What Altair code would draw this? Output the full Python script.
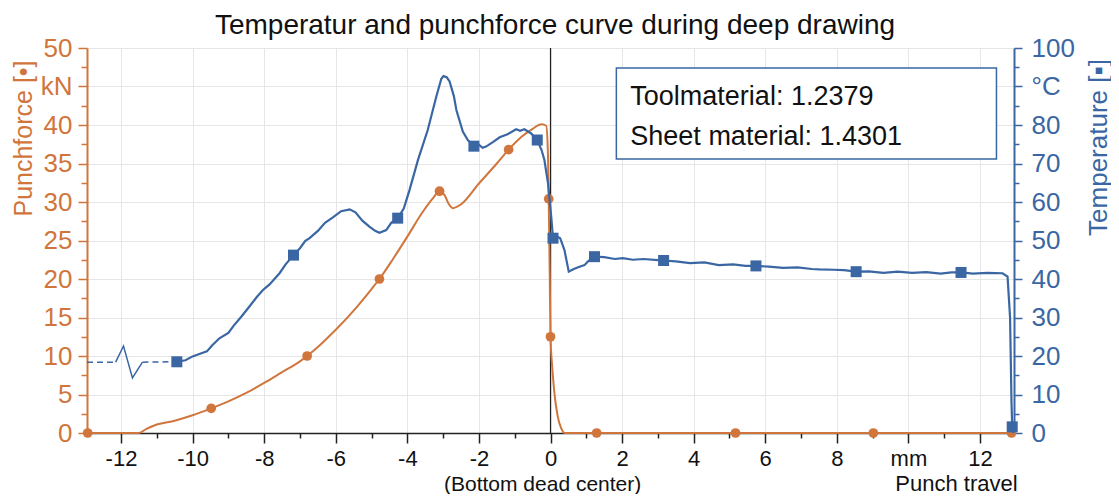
import altair as alt
import pandas as pd

ORANGE = "#D0763C"
BLUE = "#3A67A3"
GRID = "#E6E6E6"
FONT = "Liberation Sans"

TITLE = "Temperatur and punchforce curve during deep drawing"

# Punch force curve (kN)
force_x = [-12.95, -11.5, -11.3, -11.0, -10.5, -10.0, -9.48, -9.0, -8.5, -8.0, -7.5, -7.0, -6.8, -6.4,
           -6.0, -5.5, -5.0, -4.78, -4.4, -4.0, -3.6, -3.3, -3.1, -2.95, -2.85, -2.73, -2.5, -2.0, -1.5,
           -1.17, -0.8, -0.5, -0.25, -0.12, -0.07, -0.05, -0.02, 0.0, 0.05, 0.1, 0.2, 0.3, 0.4, 12.95]
force_y = [0, 0, 0.5, 1.1, 1.6, 2.3, 3.2, 4.1, 5.2, 6.5, 7.9, 9.3, 10.0, 11.6,
           13.4, 15.9, 18.7, 20.0, 22.6, 25.5, 28.5, 30.4, 31.4, 30.8, 29.8, 29.2, 29.7, 32.4, 35.0,
           36.8, 38.5, 39.5, 40.1, 39.9, 36.0, 30.4, 20.0, 12.5, 8.5, 5.6, 2.2, 0.6, 0, 0]
force_mark_x = [-12.93, -9.48, -6.8, -4.78, -3.1, -1.17, -0.05, 0.0, 1.29, 5.17, 9.02, 12.88]
force_mark_y = [0, 3.2, 10.0, 20.0, 31.4, 36.8, 30.4, 12.5, 0, 0, 0, 0]

# Temperature curve (degC)
temp_x = [-10.44, -10.2, -10.0, -9.85, -9.6, -9.45, -9.25, -9.0, -8.85, -8.64,
          -8.4, -8.2, -8.04, -7.85, -7.57, -7.4, -7.18, -7.0, -6.85, -6.73,
          -6.5, -6.3, -6.08, -5.85, -5.61, -5.45, -5.25, -5.06, -4.9, -4.78,
          -4.59, -4.45, -4.27, -4.1, -3.94, -3.7, -3.43, -3.19, -3.05, -2.99,
          -2.9, -2.82, -2.7, -2.63, -2.45, -2.31, -2.14, -2.0, -1.9, -1.8,
          -1.6, -1.42, -1.2, -0.96, -0.85, -0.73, -0.54, -0.37, -0.25, -0.17,
          -0.07, 0.02, 0.07, 0.15, 0.27, 0.39, 0.51, 0.65, 0.81, 0.95,
          1.04, 1.23, 1.5, 1.8, 2.02, 2.3, 2.6, 3.0, 3.16, 3.5,
          3.9, 4.3, 4.7, 5.1, 5.45, 5.74, 6.1, 6.5, 6.9, 7.3,
          7.51, 7.9, 8.2, 8.54, 8.9, 9.3, 9.7, 10.1, 10.5, 10.9,
          11.2, 11.47, 11.8, 12.2, 12.63, 12.77, 12.84, 12.88, 12.9, 12.93]
temp_y = [18.5, 18.9, 19.9, 20.4, 21.2, 22.8, 24.6, 26.0, 27.9, 30.2,
          33.0, 35.4, 37.1, 38.6, 41.5, 43.8, 46.2, 48.0, 49.9, 50.6,
          52.5, 54.6, 56.0, 57.6, 58.1, 57.3, 55.1, 53.6, 52.5, 52.0,
          52.7, 54.6, 55.8, 58.3, 63.1, 71.0, 78.7, 87.4, 92.0, 92.7,
          92.4, 91.3, 87.5, 83.9, 78.3, 76.1, 74.5, 74.9, 74.1, 74.4,
          75.6, 76.8, 77.6, 78.9, 78.5, 78.9, 77.8, 76.1, 73.5, 70.9,
          64.9, 56.2, 50.6, 51.2, 50.6, 47.5, 41.9, 42.6, 43.2, 43.6,
          44.5, 45.8, 45.7, 45.2, 45.4, 45.0, 45.2, 44.9, 44.8, 44.6,
          44.1, 44.3, 43.6, 43.8, 43.4, 43.4, 43.2, 42.9, 43.0, 42.6,
          42.5, 42.4, 42.3, 41.9, 42.0, 41.6, 41.9, 41.6, 41.8, 41.4,
          41.7, 41.7, 41.4, 41.6, 41.5, 40.6, 30.0, 8.0, 1.6, 0.0]
temp_mark_x = [-10.44, -7.18, -4.27, -2.14, -0.37, 0.07, 1.23, 3.16, 5.74, 8.54, 11.47, 12.9]
temp_mark_y = [18.5, 46.2, 55.8, 74.5, 76.1, 50.6, 45.8, 44.8, 43.4, 41.9, 41.7, 1.6]

# Early (uncertain) temperature readings: dashed segments and a thin zigzag
dash_x = [-12.95, -12.15, -11.4, -10.44]
dash_y = [18.4, 18.4, 18.4, 18.5]
dash_seg = ["a", "a", "b", "b"]
zig_x = [-12.15, -11.93, -11.68, -11.4]
zig_y = [18.4, 22.6, 14.3, 18.4]

# Info box
box_x0 = [1.84]
box_x1 = [12.46]
box_t0 = [71.2]
box_t1 = [94.8]
info_x = [2.23, 2.23]
info_t = [85.2, 74.8]
info_text = ["Toolmaterial: 1.2379", "Sheet material: 1.4301"]

x_ticks = list(range(-12, 13))
force_ticks = [i * 2.5 for i in range(21)]
temp_ticks = [i * 5 for i in range(21)]

force_df = pd.DataFrame({"x": force_x, "y": force_y})
force_mark_df = pd.DataFrame({"x": force_mark_x, "y": force_mark_y})
temp_df = pd.DataFrame({"x": temp_x, "t": temp_y})
temp_mark_df = pd.DataFrame({"x": temp_mark_x, "t": temp_mark_y})
dash_df = pd.DataFrame({"x": dash_x, "t": dash_y, "seg": dash_seg})
zig_df = pd.DataFrame({"x": zig_x, "t": zig_y})
box_df = pd.DataFrame({"x0": box_x0, "x1": box_x1, "t0": box_t0, "t1": box_t1})
info_df = pd.DataFrame({"x": info_x, "t": info_t, "label": info_text})
zero_df = pd.DataFrame({"x": [0.0]})
bdc_df = pd.DataFrame({"x": [-0.22], "label": ["(Bottom dead center)"]})
title_df = pd.DataFrame({"label": [TITLE]})

x_scale = alt.Scale(domain=[-12.95, 12.95], nice=False, zero=False)
x_axis = alt.Axis(
    values=x_ticks,
    labelExpr="datum.value == 10 ? 'mm' : (datum.value % 2 == 0 ? '' + datum.value : '')",
    tickSize={"condition": {"test": "datum.value % 2 == 0", "value": 10}, "value": 5},
    grid=True, gridColor=GRID, gridWidth=1,
    gridOpacity={"condition": {"test": "datum.value % 2 == 0", "value": 1}, "value": 0},
    domainColor="#222", domainWidth=1.5, tickColor="#222", tickWidth=1.5,
    labelColor="#111", labelFont=FONT, labelFontSize=22, labelPadding=5,
    labelOverlap=False, labelFlush=False,
    title="Punch travel", titleFont=FONT, titleFontSize=22, titleFontWeight="normal",
    titleColor="#111", titleX=869, titleY=57, titleAlign="center", titleBaseline="alphabetic",
)

f_scale = alt.Scale(domain=[0, 50], nice=False)
f_axis = alt.Axis(
    orient="left", values=force_ticks,
    labelExpr="datum.value == 45 ? 'kN' : (datum.value % 5 == 0 ? '' + datum.value : '')",
    tickSize={"condition": {"test": "datum.value % 5 == 0", "value": 9}, "value": 6},
    grid=True, gridColor=GRID, gridWidth=1,
    gridOpacity={"condition": {"test": "datum.value % 5 == 0", "value": 1}, "value": 0},
    domainColor=ORANGE, domainWidth=2, tickColor=ORANGE, tickWidth=1.5,
    labelColor=ORANGE, labelFont=FONT, labelFontSize=26, labelPadding=6,
    labelFlush=False, labelOverlap=False,
    title="Punchforce [•]", titleColor=ORANGE, titleFont=FONT, titleFontSize=25,
    titleFontWeight="normal", titleX=-56, titleY=90, titleAngle=270,
    titleBaseline="alphabetic", titleAlign="center",
)

t_scale = alt.Scale(domain=[0, 100], nice=False)
t_axis = alt.Axis(
    orient="right", values=temp_ticks,
    labelExpr="datum.value == 90 ? '°C' : (datum.value % 10 == 0 ? '' + datum.value : '')",
    tickSize={"condition": {"test": "datum.value % 10 == 0", "value": 8}, "value": 5},
    grid=False,
    domainColor=BLUE, domainWidth=2, tickColor=BLUE, tickWidth=1.5,
    labelColor=BLUE, labelFont=FONT, labelFontSize=26, labelPadding=9,
    labelFlush=False, labelOverlap=False,
    title="Temperature [▪]", titleColor=BLUE, titleFont=FONT, titleFontSize=26,
    titleFontWeight="normal", titleX=92, titleY=99, titleAngle=270,
    titleBaseline="alphabetic", titleAlign="center",
)

X = alt.X("x:Q", scale=x_scale, axis=x_axis)
YF = alt.Y("y:Q", scale=f_scale, axis=f_axis)
YT = alt.Y("t:Q", scale=t_scale, axis=t_axis)

zero_rule = alt.Chart(zero_df).mark_rule(color="#222", strokeWidth=1.2).encode(x=X)

force_line = alt.Chart(force_df).mark_line(color=ORANGE, strokeWidth=2, interpolate="monotone").encode(x=X, y=YF)
force_pts = alt.Chart(force_mark_df).mark_point(shape="circle", filled=True, color=ORANGE, size=95, opacity=1).encode(x=X, y=YF)
force_group = alt.layer(force_line, force_pts)

dash_line = alt.Chart(dash_df).mark_line(color=BLUE, strokeWidth=1.5, strokeDash=[6, 4]).encode(x=X, y=YT, detail="seg:N")
zig_line = alt.Chart(zig_df).mark_line(color=BLUE, strokeWidth=1.5).encode(x=X, y=YT)
temp_line = alt.Chart(temp_df).mark_line(color=BLUE, strokeWidth=2.2).encode(x=X, y=YT)
temp_pts = alt.Chart(temp_mark_df).mark_point(shape="square", filled=True, color=BLUE, size=121, opacity=1).encode(x=X, y=YT)
box = alt.Chart(box_df).mark_rect(fill="white", stroke=BLUE, strokeWidth=1.5).encode(
    x=alt.X("x0:Q", scale=x_scale, axis=x_axis), x2="x1:Q",
    y=alt.Y("t0:Q", scale=t_scale, axis=t_axis), y2="t1:Q")
info = alt.Chart(info_df).mark_text(align="left", baseline="alphabetic", font=FONT, fontSize=27, color="#111").encode(
    x=X, y=YT, text="label:N")
temp_group = alt.layer(dash_line, zig_line, temp_line, temp_pts, box, info)

bdc = alt.Chart(bdc_df).mark_text(align="center", baseline="alphabetic", font=FONT, fontSize=21, color="#111").encode(
    x=X, y=alt.value(443), text="label:N")

title_txt = alt.Chart(title_df).mark_text(align="center", baseline="alphabetic", font=FONT, fontSize=28, color="#111").encode(
    x=alt.value(468), y=alt.value(-14), text="label:N")

chart = alt.layer(zero_rule, force_group, temp_group, bdc, title_txt).resolve_scale(y="independent").properties(
    width=927, height=385,
    padding={"left": 79, "top": 40, "right": 97, "bottom": 61},
    autosize=alt.AutoSizeParams(type="none"),
).configure_view(stroke="#222", strokeWidth=1.5).configure(background="white")

chart.save("out.html", embed_options={"renderer": "svg", "actions": False})
